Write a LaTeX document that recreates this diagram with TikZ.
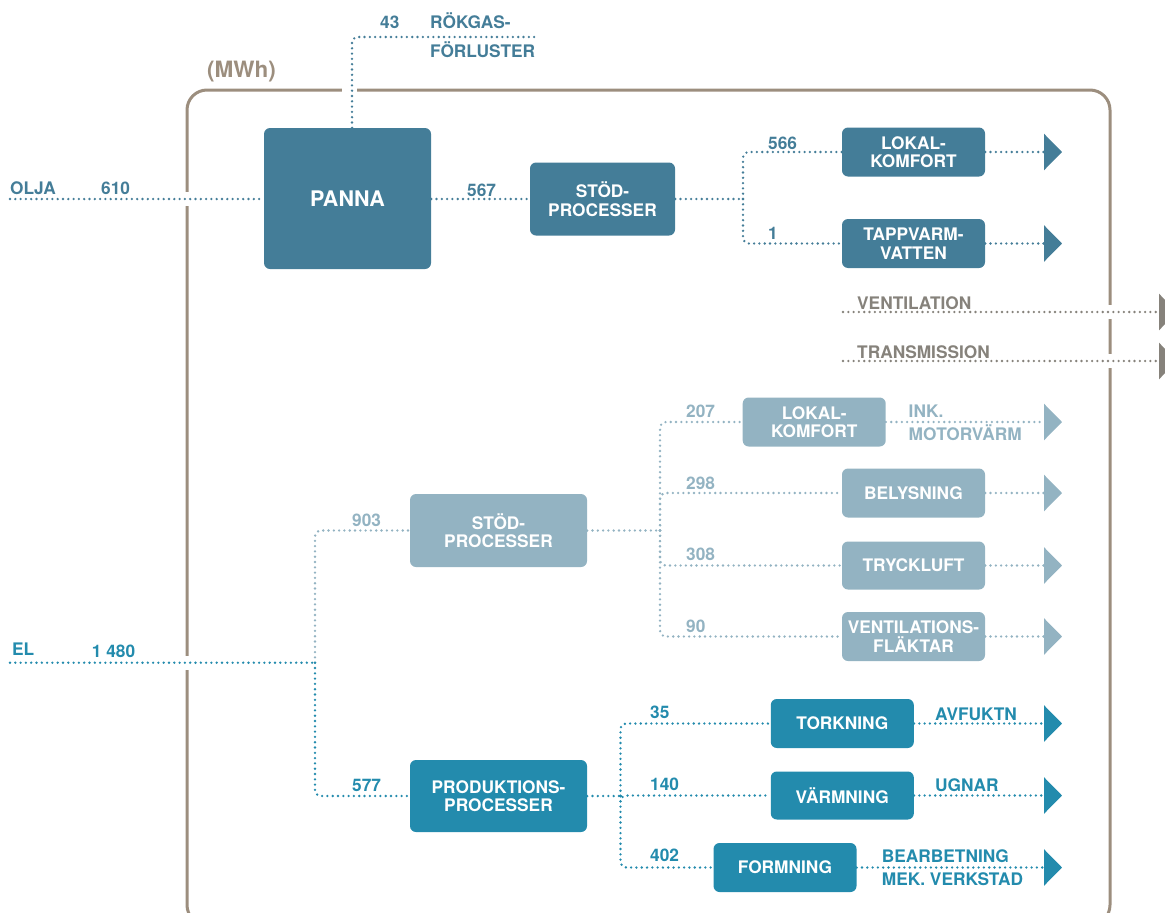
\documentclass[tikz,border=0pt]{standalone}
\usepackage{fontspec}
\setmainfont{TeX Gyre Heros}
\usetikzlibrary{arrows.meta}
\usetikzlibrary{calc}
\definecolor{oilc}{HTML}{447D98}
\definecolor{supc}{HTML}{93B3C2}
\definecolor{prodc}{HTML}{238BAD}
\definecolor{framec}{HTML}{9C8E7E}
\definecolor{grayc}{HTML}{86827B}
\newcommand\lblfont{\fontsize{17.3}{18.5}\selectfont\bfseries}
\tikzset{
  bx/.style={rounded corners=6pt,inner sep=0pt,align=center,text=white,font=\lblfont,minimum width=143pt,minimum height=49pt},
  ob/.style={bx,fill=oilc},
  sb/.style={bx,fill=supc},
  pb/.style={bx,fill=prodc},
  fl/.style={line width=2.6pt,dash pattern=on 0pt off 5.3pt,line cap=round,rounded corners=6pt},
  nl/.style={anchor=base west,inner sep=0pt,font=\lblfont},
  arr/.style={-{Triangle[length=18pt,width=36pt]}}
}

\begin{document}
\begin{tikzpicture}[x=1pt,y=-1pt]
    \useasboundingbox (0,0) rectangle (1165,913);
    % frame with gaps where flows cross it
    \draw[framec,line width=3pt,rounded corners=20pt] (187,90) rectangle (1110,925);
    \fill[white] (342,84) rectangle (357,96);
    \foreach \gx/\gy in {187/199, 187/663, 1110/312, 1110/361}
      \fill[white] (\gx-6,\gy-7) rectangle (\gx+6,\gy+7);
    \node[nl,text=framec,font=\fontsize{22.5}{24}\selectfont\bfseries] (unit) at (207,77) {(MWh)};

    % oil side
    \node[ob,minimum width=167pt,minimum height=141pt,font=\fontsize{21.5}{24}\selectfont\bfseries] (panna) at (347.5,198.5) {PANNA};
    \node[ob,minimum width=145pt,minimum height=73pt] (stod1) at (602.5,199) {STÖD-\\PROCESSER};
    \node[ob] (lk1) at (913.5,152) {LOKAL-\\KOMFORT};
    \node[ob] (tapp) at (913.5,243.5) {TAPPVARM-\\VATTEN};
    \coordinate (olja) at (10,199);
    \coordinate (rg) at (535,37);
    \coordinate (j1) at (743,199);
    \coordinate (tipx) at (1062,0);
    \draw[fl,oilc] (olja) -- (panna.west |- olja);
    \draw[fl,oilc] ([xshift=4.5pt]panna.north) |- (rg);
    \draw[fl,oilc] (panna.east |- stod1) -- (stod1.west);
    \draw[fl,oilc] (stod1.east) -- (j1);
    \draw[fl,oilc] (j1) |- (lk1);
    \draw[fl,oilc] (j1) |- (tapp);
    \draw[fl,oilc,arr] (lk1.east) -- (lk1.east -| tipx);
    \draw[fl,oilc,arr] (tapp.east) -- (tapp.east -| tipx);
    \node[nl,text=oilc] (l43) at (380,28) {43};
    \node[nl,text=oilc] (lrg1) at (430,28) {RÖKGAS-};
    \node[nl,text=oilc] (lrg2) at (430,57) {FÖRLUSTER};
    \node[nl,text=oilc] (lolja) at (10,194) {OLJA};
    \node[nl,text=oilc] (l610) at (101,194) {610};
    \node[nl,text=oilc] (l567) at (467,196) {567};
    \node[nl,text=oilc] (l566) at (768,149.5) {566};
    \node[nl,text=oilc] (l1) at (768,239.5) {1};

    % losses through the building
    \coordinate (v0) at (843,312);
    \coordinate (v1) at (1177,312);
    \coordinate (t0) at (843,361);
    \coordinate (t1) at (1177,361);
    \draw[fl,grayc,arr] (v0) -- (v1);
    \draw[fl,grayc,arr] (t0) -- (t1);
    \node[nl,text=grayc] (lvent) at (857,309) {VENTILATION};
    \node[nl,text=grayc] (ltrans) at (857,358) {TRANSMISSION};

    % electricity, support processes
    \node[sb,minimum width=177pt,minimum height=73pt] (stod2) at (498.5,530.5) {STÖD-\\PROCESSER};
    \node[sb] (lk2) at (814.2,422) {LOKAL-\\KOMFORT};
    \node[sb] (bel) at (913.5,493) {BELYSNING};
    \node[sb,minimum height=48pt] (tryck) at (913.5,565.5) {TRYCKLUFT};
    \node[sb] (vfl) at (913.5,636.5) {VENTILATIONS-\\FLÄKTAR};
    \coordinate (el) at (10,662.7);
    \coordinate (j2) at (315,662.7);
    \coordinate (j3) at (660,530.5);
    \draw[fl,prodc] (el) -- (j2);
    \draw[fl,supc] (j2) |- (stod2);
    \draw[fl,supc] (stod2.east) -- (j3);
    \foreach \b in {lk2,bel,tryck,vfl}{
      \draw[fl,supc] (j3) |- (\b);
      \draw[fl,supc,arr] (\b.east) -- (\b.east -| tipx);
    }
    \node[nl,text=prodc] (lel) at (12,655.7) {EL};
    \node[nl,text=prodc] (l1480) at (91.7,657.7) {1 480};
    \node[nl,text=supc] (l903) at (352,526) {903};
    \node[nl,text=supc] (l207) at (686,417.3) {207};
    \node[nl,text=supc] (l298) at (686,489) {298};
    \node[nl,text=supc] (l308) at (686,560.7) {308};
    \node[nl,text=supc] (l90) at (686,632) {90};
    \node[nl,text=supc] (link) at (908.5,417.3) {INK.};
    \node[nl,text=supc] (lmotor) at (908.5,440.7) {MOTORVÄRM};

    % electricity, production processes
    \node[pb,minimum width=177pt,minimum height=72pt] (prod) at (498.5,796) {PRODUKTIONS-\\PROCESSER};
    \node[pb] (tork) at (842.3,723.5) {TORKNING};
    \node[pb,minimum height=48pt] (varm) at (842.3,795.5) {VÄRMNING};
    \node[pb] (form) at (785,867.5) {FORMNING};
    \coordinate (j4) at (620.5,796);
    \draw[fl,prodc] (j2) |- (prod);
    \draw[fl,prodc] (prod.east) -- (j4);
    \foreach \b in {tork,varm,form}{
      \draw[fl,prodc] (j4) |- (\b);
      \draw[fl,prodc,arr] (\b.east) -- (\b.east -| tipx);
    }
    \node[nl,text=prodc] (l577) at (352,791) {577};
    \node[nl,text=prodc] (l35) at (650,718) {35};
    \node[nl,text=prodc] (l140) at (650,790.7) {140};
    \node[nl,text=prodc] (l402) at (650,861.7) {402};
    \node[nl,text=prodc] (lavf) at (935,720.7) {AVFUKTN};
    \node[nl,text=prodc] (lugn) at (935,791.7) {UGNAR};
    \node[nl,text=prodc] (lbea) at (881.7,862.7) {BEARBETNING};
    \node[nl,text=prodc] (lmek) at (881.7,885) {MEK. VERKSTAD};
  \end{tikzpicture}
\end{document}
